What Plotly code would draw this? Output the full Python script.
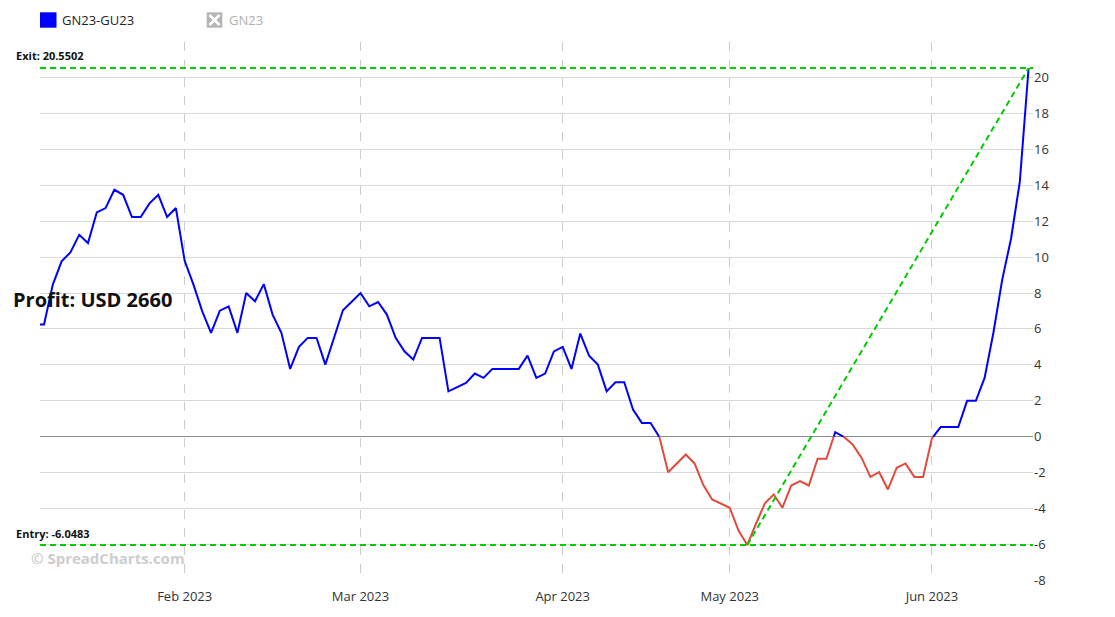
import pandas as pd
import plotly.graph_objects as go

# ---------------- data ----------------
series_name = "GN23-GU23"
hidden_series_name = "GN23"
holidays = ["2023-04-07"]
dates = [d for d in pd.bdate_range("2023-01-09", "2023-06-16") if d.strftime("%Y-%m-%d") not in holidays]

values_jan = [6.25, 6.25, 8.47, 9.77, 10.27, 11.25, 10.79, 12.50, 12.74, 13.76, 13.48, 12.24, 12.24, 13.00, 13.48, 12.24, 12.74]
values_feb = [9.80, 8.47, 6.98, 5.78, 7.02, 7.26, 5.78, 8.00, 7.54, 8.50, 6.80, 5.78, 3.77, 5.00, 5.50, 5.50, 4.01, 5.52, 7.04, 7.52]
values_mar = [8.00, 7.26, 7.50, 6.80, 5.50, 4.75, 4.29, 5.50, 5.50, 5.50, 2.52, 2.75, 2.99, 3.51, 3.27, 3.77, 3.77, 3.77, 3.77, 4.51, 3.27, 3.51, 4.75]
values_apr = [5.00, 3.77, 5.74, 4.51, 4.01, 2.52, 3.03, 3.03, 1.50, 0.76, 0.76, -0.03, -1.99, -1.50, -1.00, -1.50, -2.71, -3.51, -3.73]
values_may = [-3.97, -5.24, -6.0483, -4.85, -3.73, -3.23, -3.97, -2.73, -2.49, -2.73, -1.24, -1.24, 0.24, -0.02, -0.45, -1.19, -2.25, -1.99, -2.95, -1.74, -1.50, -2.25, -2.25]
values_jun = [-0.10, 0.53, 0.53, 0.53, 1.99, 1.99, 3.28, 5.80, 8.75, 11.03, 14.20, 20.5502]
values = values_jan + values_feb + values_mar + values_apr + values_may + values_jun

entry_date, entry_value = "2023-05-03", -6.0483
exit_date, exit_value = "2023-06-16", 20.5502
profit_text = "Profit: USD 2660"

month_ticks = ["2023-02", "2023-03", "2023-04", "2023-05", "2023-06"]
month_labels = ["Feb 2023", "Mar 2023", "Apr 2023", "May 2023", "Jun 2023"]
y_ticks = list(range(-8, 23, 2))

# ---------------- styles ----------------
BLUE = "#0000ff"
RED = "#e04b3c"
GREEN = "#00cc00"
FONT = "Open Sans"

# split line at zero crossings
aug_x, aug_y = [], []
for i in range(len(values)):
    aug_x.append(dates[i]); aug_y.append(values[i])
    if i < len(values) - 1:
        a, b = values[i], values[i + 1]
        if (a > 0 and b < 0) or (a < 0 and b > 0):
            frac = a / (a - b)
            aug_x.append(dates[i] + pd.Timedelta(days=1) * frac)
            aug_y.append(0.0)
blue_y = [v if v >= 0 else None for v in aug_y]
red_y = [v if v <= 0 else None for v in aug_y]

# first trading day of each month for ticks
tickvals = []
for m in month_ticks:
    tickvals.append(next(d for d in dates if d.strftime("%Y-%m") == m))

fig = go.Figure()
fig.add_trace(go.Scatter(x=aug_x, y=red_y, mode="lines", line=dict(color=RED, width=2),
                         connectgaps=False, showlegend=False, hoverinfo="skip"))
fig.add_trace(go.Scatter(x=aug_x, y=blue_y, mode="lines", line=dict(color=BLUE, width=2),
                         connectgaps=False, showlegend=False, name=series_name))
fig.add_trace(go.Scatter(x=[entry_date, exit_date], y=[entry_value, exit_value], mode="lines",
                         line=dict(color=GREEN, width=2, dash="6px,4px"), showlegend=False, hoverinfo="skip"))

# entry / exit horizontal lines
for v in (entry_value, exit_value):
    fig.add_shape(type="line", xref="paper", x0=0, x1=1, yref="y", y0=v, y1=v,
                  line=dict(color=GREEN, width=2, dash="6px,4px"), layer="above")

# annotations
fig.add_annotation(xref="paper", x=0, xshift=-26, yref="y", y=exit_value, yshift=13,
                   text=f"<b>Exit: {exit_value:.4f}</b>", showarrow=False, xanchor="left", yanchor="middle",
                   font=dict(family=FONT, size=11, color="#111"))
fig.add_annotation(xref="paper", x=0, xshift=-26, yref="y", y=entry_value, yshift=12,
                   text=f"<b>Entry: {entry_value:.4f}</b>", showarrow=False, xanchor="left", yanchor="middle",
                   font=dict(family=FONT, size=11, color="#111"))
fig.add_annotation(xref="paper", x=0, xshift=-29, yref="y", y=7.65,
                   text=f"<b>{profit_text}</b>", showarrow=False, xanchor="left", yanchor="middle",
                   font=dict(family=FONT, size=20, color="#111"))
fig.add_annotation(xref="paper", x=0, xshift=-11, yref="paper", y=0, yshift=22,
                   text="<b>© SpreadCharts.com</b>", showarrow=False, xanchor="left", yanchor="middle",
                   font=dict(family=FONT, size=15, color="#cdcdcd"))

# legend (custom)
fig.add_shape(type="rect", xref="paper", xsizemode="pixel", xanchor=0, x0=0, x1=16.5,
              yref="paper", ysizemode="pixel", yanchor=1, y0=14.3, y1=29.7,
              fillcolor=BLUE, line=dict(width=0))
fig.add_annotation(xref="paper", x=0, xshift=20, yref="paper", y=1, yshift=22,
                   text=series_name, showarrow=False, xanchor="left", yanchor="middle",
                   font=dict(family=FONT, size=13, color="#222"))
fig.add_shape(type="rect", xref="paper", xsizemode="pixel", xanchor=0, x0=166.7, x1=182.3,
              yref="paper", ysizemode="pixel", yanchor=1, y0=14.3, y1=29.7,
              fillcolor="#b5b5b5", line=dict(width=0))
for (a0, b0, a1, b1) in [(169.5, 17, 179.5, 27), (169.5, 27, 179.5, 17)]:
    fig.add_shape(type="line", xref="paper", xsizemode="pixel", xanchor=0, x0=a0, x1=a1,
                  yref="paper", ysizemode="pixel", yanchor=1, y0=b0, y1=b1,
                  line=dict(color="white", width=2.5))
fig.add_annotation(xref="paper", x=0, xshift=187, yref="paper", y=1, yshift=22,
                   text=hidden_series_name, showarrow=False, xanchor="left", yanchor="middle",
                   font=dict(family=FONT, size=13, color="#b0b0b0"))

fig.update_layout(
    width=1115, height=617,
    margin=dict(l=40, r=82, t=42, b=37),
    plot_bgcolor="white", paper_bgcolor="white",
    font=dict(family=FONT, size=13, color="#333"),
    showlegend=False,
    xaxis=dict(
        type="date",
        range=["2023-01-09 13:00", "2023-06-16 12:00"],
        rangebreaks=[dict(bounds=["sat", "mon"]), dict(values=holidays)],
        tickvals=tickvals, ticktext=month_labels,
        showgrid=True, gridcolor="#cccccc", griddash="dash", gridwidth=1,
        showline=False, zeroline=False, ticks="",
        ticklabelstandoff=7,
        tickfont=dict(size=13, color="#333"),
    ),
    yaxis=dict(
        side="right",
        range=[-8, 22],
        tickvals=y_ticks,
        ticktext=[str(t) if t != 22 else "" for t in y_ticks],
        showgrid=True, gridcolor="#d9d9d9", gridwidth=1,
        zeroline=True, zerolinecolor="#8a8a8a", zerolinewidth=1,
        showline=False, ticks="",
        tickfont=dict(size=13, color="#333"),
    ),
)

fig.write_html("out.html", config={"displayModeBar": False},
               post_script="document.body.style.margin='0';document.body.style.padding='0';")
